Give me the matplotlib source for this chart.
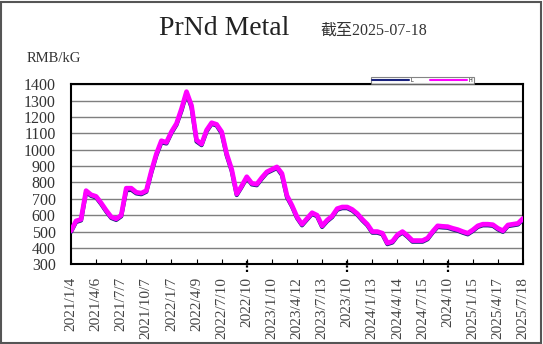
import matplotlib
matplotlib.use("Agg")
import matplotlib.pyplot as plt
import numpy as np
from matplotlib.patches import Rectangle

# ---- data ----
tick_labels = ["2021/1/4", "2021/4/6", "2021/7/7", "2021/10/7", "2022/1/7", "2022/4/9",
               "2022/7/10", "2022/10", "2023/1/10", "2023/4/12", "2023/7/13", "2023/10",
               "2024/1/13", "2024/4/14", "2024/7/15", "2024/10", "2025/1/15", "2025/4/17",
               "2025/7/18"]
major_labels = ["2022/10", "2023/10", "2024/10"]

high = [505, 565, 575, 750, 725, 715, 675, 630, 590, 578,
        600, 765, 765, 740, 735, 750, 870, 975, 1055, 1045,
        1110, 1160, 1250, 1355, 1270, 1060, 1035, 1120, 1165, 1155,
        1110, 975, 880, 730, 780, 835, 795, 790, 830, 865,
        880, 895, 855, 720, 660, 590, 545, 580, 615, 600,
        535, 570, 595, 640, 650, 650, 635, 610, 575, 545,
        500, 500, 490, 430, 440, 480, 500, 475, 445, 445,
        445, 460, 500, 535, 532, 530, 520, 512, 500, 490,
        510, 535, 545, 545, 542, 520, 505, 540, 545, 550,
        580]
low = [498, 558, 568, 740, 718, 708, 668, 623, 583, 571,
       593, 752, 755, 733, 728, 743, 860, 965, 1045, 1038,
       1102, 1152, 1238, 1345, 1258, 1050, 1028, 1112, 1158, 1148,
       1100, 965, 870, 723, 773, 828, 788, 783, 823, 858,
       873, 888, 845, 710, 653, 583, 538, 573, 608, 593,
       528, 563, 588, 633, 643, 643, 628, 603, 568, 538,
       493, 493, 483, 423, 433, 473, 493, 468, 438, 438,
       438, 453, 493, 528, 525, 523, 513, 505, 493, 483,
       503, 528, 538, 538, 535, 513, 498, 533, 538, 543,
       573]

title = "PrNd Metal"
subtitle = "截至2025-07-18"
unit = "RMB/kG"

W, H = 543, 344
fig = plt.figure(figsize=(W / 100, H / 100), dpi=100)
fig.patch.set_facecolor("white")
fig.patches.append(Rectangle((1 / W, 1 / H), 540 / W, 341 / H, transform=fig.transFigure,
                             fill=False, edgecolor="#555555", linewidth=1.5))

ax = fig.add_axes([71 / W, (H - 264.3) / H, 452 / W, 180 / H])
x = np.arange(len(high))
ax.plot(x, low, color="#1a237e", lw=3.0, label="L", solid_capstyle="round",
        solid_joinstyle="round", zorder=3)
ax.plot(x, high, color="#ff00ff", lw=3.4, label="H", solid_capstyle="round",
        solid_joinstyle="round", zorder=4)

ax.set_xlim(0, len(high) - 1)
ax.set_ylim(300, 1400)
ax.set_yticks(np.arange(300, 1401, 100))
ax.yaxis.grid(True, color="#7f7f7f", lw=1.0)
ax.set_axisbelow(True)
for s in ax.spines.values():
    s.set_color("black")
    s.set_linewidth(1.5)

serif = ["Liberation Serif", "Noto Sans CJK SC"]
tpos = np.linspace(0, len(high) - 1, len(tick_labels))
ax.set_xticks(tpos)
ax.set_xticklabels(tick_labels, rotation=90, fontsize=11, family=serif, color="#444444")
ax.tick_params(axis="x", direction="in", length=3.5, width=0.8, pad=9)
ax.tick_params(axis="y", length=0, pad=11, labelsize=11.5, labelcolor="#333333")
for lab in ax.get_yticklabels():
    lab.set_family(serif)

for lbl, p in zip(tick_labels, tpos):
    if lbl in major_labels:
        ax.plot([p, p], [-0.045, 0.03], transform=ax.get_xaxis_transform(), color="black",
                lw=1.6, ls=(0, (1, 1)), clip_on=False, zorder=5)

fig.text(224 / W, 1 - 34.6 / H, title, ha="center", va="baseline", fontsize=20,
         family=serif, color="#222222")
fig.text(320 / W, 1 - 34.6 / H, subtitle, ha="left", va="baseline", fontsize=11.5,
         family=serif, color="#333333")
fig.text(27 / W, 1 - 62.3 / H, unit, ha="left", va="baseline", fontsize=10.5,
         family=serif, color="#333333")

leg = ax.legend(loc="lower left", bbox_to_anchor=(371 / W, 1 - 84 / H), bbox_transform=fig.transFigure,
                ncol=2, fontsize=3.5, handlelength=7.5, handletextpad=0.4, columnspacing=3.5,
                borderpad=0.25, frameon=True, fancybox=False, borderaxespad=0)
leg.get_frame().set_edgecolor("#666666")
leg.get_frame().set_linewidth(0.8)
for l in leg.get_lines():
    l.set_linewidth(1.5)

fig.savefig("out.png", dpi=100)
